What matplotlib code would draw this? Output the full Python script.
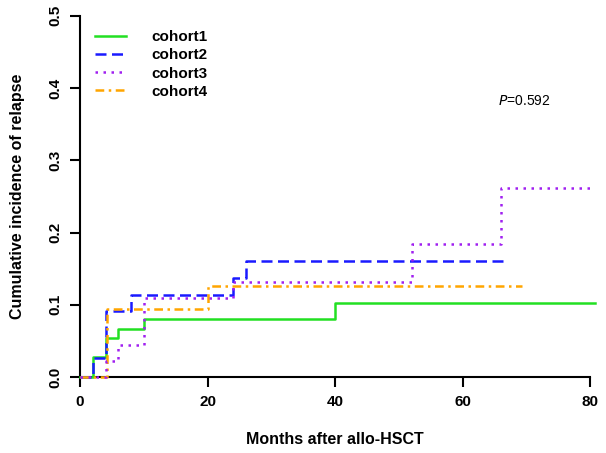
import matplotlib.pyplot as plt

plt.rcParams["font.family"] = ["Liberation Sans", "DejaVu Sans"]

# step curves: time of each jump (months) and the level reached there
c1_t = [0, 2, 4, 6, 10, 40, 80.8]
c1_y = [0, 0.027, 0.054, 0.067, 0.080, 0.103, 0.103]

c2_t = [0, 2, 4, 8, 24, 26, 66.7]
c2_y = [0, 0.026, 0.092, 0.113, 0.137, 0.160, 0.160]

c3_t = [0, 4, 6, 10, 24, 52, 66, 80.3]
c3_y = [0, 0.022, 0.044, 0.110, 0.131, 0.184, 0.261, 0.261]

c4_t = [0, 4.2, 20, 69.3]
c4_y = [0, 0.094, 0.126, 0.126]

labels = ["cohort1", "cohort2", "cohort3", "cohort4"]
p_text = "=0.592"

GREEN  = "#22e022"
BLUE   = "#1a1aff"
PURPLE = "#a020f0"
ORANGE = "#ffa500"

fig = plt.figure(figsize=(6.06, 4.53), dpi=100)
# axes placed so that 0..80 months -> 80..590 px, 0..0.5 -> 377..16 px
ax = fig.add_axes([67.25 / 606, (453 - 391.4) / 453, 548.25 / 606, 390 / 453])
ax.set_xlim(-2, 84)
ax.set_ylim(-0.02, 0.52)

lw = 1.8
ax.step(c1_t, c1_y, where="post", color=GREEN, lw=lw, label=labels[0], zorder=3)
ax.step(c2_t, c2_y, where="post", color=BLUE, lw=lw, ls=(0, (4.4, 2.2)),
        label=labels[1], zorder=4)
ax.step(c3_t, c3_y, where="post", color=PURPLE, lw=lw, ls=(0, (1, 2.2)),
        label=labels[2], zorder=5)
ax.step(c4_t, c4_y, where="post", color=ORANGE, lw=lw, ls=(0, (3.5, 1.8, 1, 1.8)),
        label=labels[3], zorder=4)

# R-style axes meeting at the origin
for s in ["top", "right"]:
    ax.spines[s].set_visible(False)
ax.spines["left"].set_position(("data", 0))
ax.spines["bottom"].set_position(("data", 0))
ax.spines["left"].set_bounds(0, 0.5)
ax.spines["bottom"].set_bounds(0, 80)
for s in ["left", "bottom"]:
    ax.spines[s].set_linewidth(1.5)

ax.set_xticks([0, 20, 40, 60, 80])
ax.set_yticks([0.0, 0.1, 0.2, 0.3, 0.4, 0.5])
ax.set_yticklabels([f"{v:.1f}" for v in [0.0, 0.1, 0.2, 0.3, 0.4, 0.5]],
                   rotation=90, va="center")
ax.tick_params(axis="both", direction="out", length=7, width=1.5,
               labelsize=11, pad=6)
for t in ax.get_xticklabels() + ax.get_yticklabels():
    t.set_fontweight("bold")

fig.text(335 / 606, 1 - 440 / 453, "Months after allo-HSCT", ha="center",
         va="center", fontsize=11.5, fontweight="bold")
fig.text(18 / 606, 1 - 196 / 453, "Cumulative incidence of relapse", ha="center",
         va="center", rotation=90, fontsize=11.5, fontweight="bold")

ax.text(69.6, 0.382, r"$\it{P}$" + p_text, ha="center", va="center", fontsize=10)

leg = ax.legend(loc="upper left", bbox_to_anchor=(95 / 606, 1 - 30 / 453),
                bbox_transform=fig.transFigure, frameon=False,
                fontsize=11, handlelength=2.0, handletextpad=1.7,
                labelspacing=0.28, borderaxespad=0, borderpad=0)
for t in leg.get_texts():
    t.set_fontweight("bold")

fig.savefig("out.png", dpi=100)
